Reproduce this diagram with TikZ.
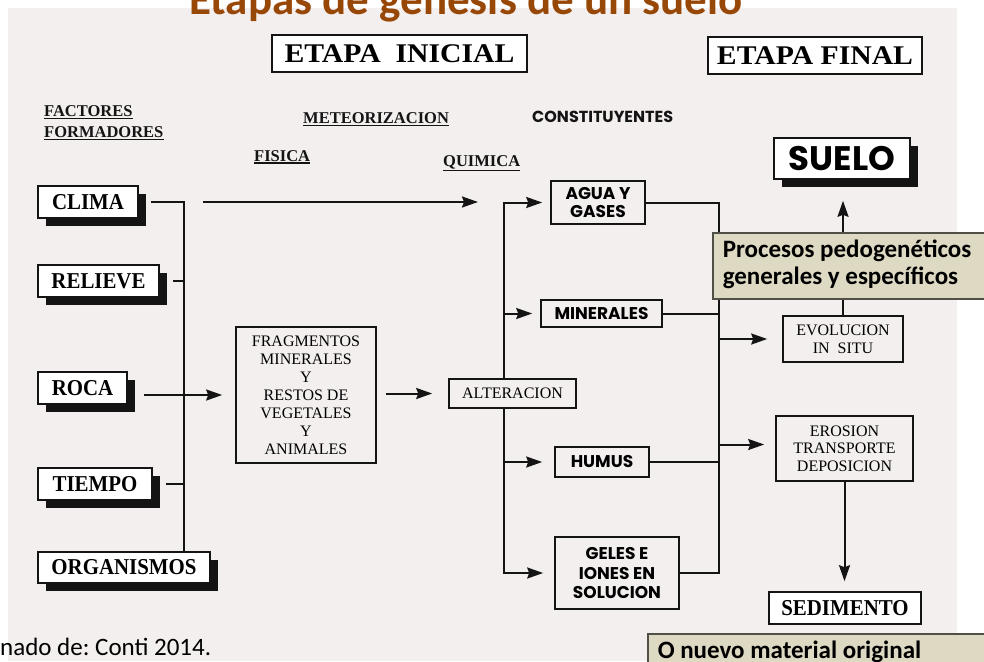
\documentclass[tikz,border=0pt]{standalone}
\usepackage{fontspec}
\usetikzlibrary{arrows.meta,calc,shadows}
\newfontfamily\boxserif[FakeStretch=0.92]{Liberation Serif}
\newfontfamily\etapaserif[FakeStretch=1.1]{Liberation Serif}
\newfontfamily\hdserif{Liberation Serif}
\newfontfamily\gothic{Poppins}
\newfontfamily\calib{Carlito}
\definecolor{scanbg}{RGB}{244,239,239}
\definecolor{tanbg}{RGB}{221,217,195}
\definecolor{tanline}{RGB}{80,80,70}
\definecolor{titlebrown}{RGB}{151,71,6}
\definecolor{ink}{RGB}{20,20,20}
\frenchspacing
\newcommand{\natspace}{\spaceskip=0pt\relax\xspaceskip=0pt\relax}
\tikzset{
  line/.style={draw=ink, line width=2pt},
  arr/.style={line, -{Stealth[length=16pt,width=11pt,inset=2pt]}},
  bx/.style={draw=ink, line width=1.6pt, inner sep=0pt, align=center},
  shbox/.style={bx, fill=white, font=\boxserif\bfseries\fontsize{22.7}{26}\selectfont,
     drop shadow={shadow xshift=8pt, shadow yshift=-8pt, fill=ink, opacity=1}},
  serbox/.style={bx, font=\hdserif\fontsize{16}{18}\selectfont},
  gbox/.style={bx, font=\gothic\bfseries\fontsize{17}{18}\selectfont},
  etapa/.style={bx, line width=1.8pt, fill=white, font=\etapaserif\bfseries\fontsize{27}{30}\selectfont},
  head/.style={font=\hdserif\bfseries\fontsize{16.5}{18}\selectfont, inner sep=0pt, anchor=base west, text=ink},
  uline/.style={draw=ink, line width=1.3pt},
  tanbox/.style={draw=tanline, fill=tanbg, line width=1.5pt, anchor=north west, align=left,
     font=\calib\bfseries\fontsize{25}{27}\selectfont, inner xsep=10pt, inner ysep=7pt,
     text height=18pt, text=black},
}
\begin{document}
\begin{tikzpicture}[x=1pt,y=-1pt]
\useasboundingbox (0,0) rectangle (984,661);
\fill[scanbg] (8,8) rectangle (957,661);

% title and source
\node[font=\calib\bfseries\fontsize{45}{50}\selectfont, text=titlebrown, anchor=base, inner sep=0pt] (title) at (466,15) {Etapas de génesis de un suelo};
\node[font=\calib\fontsize{25}{30}\selectfont, anchor=base west, inner sep=0pt, text=black] (src) at (0,655) {nado de: Conti 2014.};

% stage headers
\node[etapa, minimum width=255, minimum height=37] (ini) at (399.5,53.5) {ETAPA~~INICIAL};
\node[etapa, minimum width=214, minimum height=37] (fin) at (815,55.5) {ETAPA FINAL};

% column headings
\node[head] (fac) at (44,116.5) {FACTORES};
\node[head] (form) at (44,137.5) {FORMADORES};
\node[head] (met) at (303,123.3) {METEORIZACION};
\node[head] (fis) at (254,161) {FISICA};
\node[head] (qui) at (443,166) {QUIMICA};
\node[font=\gothic\bfseries\fontsize{16}{18}\selectfont, inner sep=0pt, anchor=base west, text=ink] (cons) at (532,122.3) {CONSTITUYENTES};
\foreach \n in {fac,form,met,fis,qui}{
  \draw[uline] ([yshift=-1.5pt]\n.south west) -- ([yshift=-1.5pt]\n.south east);
}

% factors
\node[shbox, minimum width=100, minimum height=32] (clima) at (88,202) {CLIMA};
\node[shbox, minimum width=121, minimum height=32] (relieve) at (98.5,281) {RELIEVE};
\node[shbox, minimum width=89, minimum height=32] (roca) at (82.5,388) {ROCA};
\node[shbox, minimum width=114, minimum height=32] (tiempo) at (95,484) {TIEMPO};
\node[shbox, minimum width=172, minimum height=31] (org) at (124,567.5) {ORGANISMOS};

% middle
\node[serbox, minimum width=140, minimum height=136] (frag) at (306,395) {FRAGMENTOS\\MINERALES\\Y\\RESTOS DE\\VEGETALES\\Y\\ANIMALES};
\node[serbox, minimum width=127, minimum height=29] (alt) at (512.5,393.5) {ALTERACION};

% constituents
\node[gbox, minimum width=94, minimum height=43] (agua) at (598,202.5) {AGUA Y\\GASES};
\node[gbox, minimum width=121, minimum height=27] (min) at (601.5,313.5) {MINERALES};
\node[gbox, minimum width=94, minimum height=30] (humus) at (602,462) {HUMUS};
\node[gbox, minimum width=124, minimum height=72, font=\gothic\bfseries\fontsize{17}{19.5}\selectfont] (geles) at (617,573) {GELES E\\IONES EN\\SOLUCION};

% final stage
\node[bx, fill=white, minimum width=136, minimum height=41, font=\gothic\bfseries\fontsize{34}{36}\selectfont,
      drop shadow={shadow xshift=8pt, shadow yshift=-8pt, fill=ink, opacity=1}] (suelo) at (842,158.5) {SUELO};
\node[serbox, minimum width=120, minimum height=46] (evol) at (843,339) {EVOLUCION\\IN~~SITU};
\node[serbox, minimum width=137, minimum height=65, font=\hdserif\fontsize{16}{17.5}\selectfont] (eros) at (844.5,448.5) {EROSION\\TRANSPORTE\\DEPOSICION};
\node[bx, fill=white, minimum width=152, minimum height=32, font=\boxserif\bfseries\fontsize{22.7}{26}\selectfont] (sed) at (845,608) {SEDIMENTO};

% left bracket
\coordinate (bxa) at (184,0);
\draw[line] ([xshift=12pt]clima.east) -| (bxa |- org.north);
\draw[line] ([xshift=13pt]relieve.east) -- (relieve.east -| bxa);
\draw[line] ([xshift=13pt]tiempo.east) -- (tiempo.east -| bxa);
\draw[arr] ([xshift=16pt]roca.east |- frag.west) -- ([xshift=-13pt]frag.west);
\coordinate (qtip) at (478,202);
\draw[arr] ([xshift=64pt]clima.east) -- (qtip);

% middle arrows
\draw[arr] ([xshift=9pt]frag.east |- alt.west) -- ([xshift=-16pt]alt.west);
\coordinate (bxb) at (504,0);
\draw[arr] (bxb |- alt.north) -- (bxb |- agua.west) -- ([xshift=-8pt]agua.west);
\draw[arr] (bxb |- alt.south) -- (bxb |- geles.west) -- ([xshift=-11pt]geles.west);
\draw[arr] (bxb |- min.west) -- ([xshift=-8pt]min.west);
\draw[arr] (bxb |- humus.west) -- ([xshift=-12pt]humus.west);

% right bracket
\coordinate (bxc) at (719,0);
\draw[line] (agua.east) -| (bxc |- geles.east) -- (geles.east);
\draw[line] (min.east) -- (min.east -| bxc);
\draw[line] (humus.east) -- (humus.east -| bxc);
\draw[arr] (bxc |- evol.west) -- ([xshift=-15pt]evol.west);
\draw[arr] ([yshift=4pt]bxc |- eros.west) -- ([xshift=-11pt,yshift=4pt]eros.west);
\draw[arr] (evol.north) -- ([yshift=-21pt]evol.north |- suelo.south);
\draw[arr] (eros.south) -- ([yshift=10pt]eros.south |- sed.north);

% annotation boxes
\node[tanbox, text width=262pt, text depth=34pt] (proc) at (712,232) {\natspace Procesos pedogenéticos\\generales y específicos};
\node[tanbox, text width=330pt, text depth=10pt] (nuevo) at (647,633) {\natspace O nuevo material original};
\end{tikzpicture}
\end{document}
